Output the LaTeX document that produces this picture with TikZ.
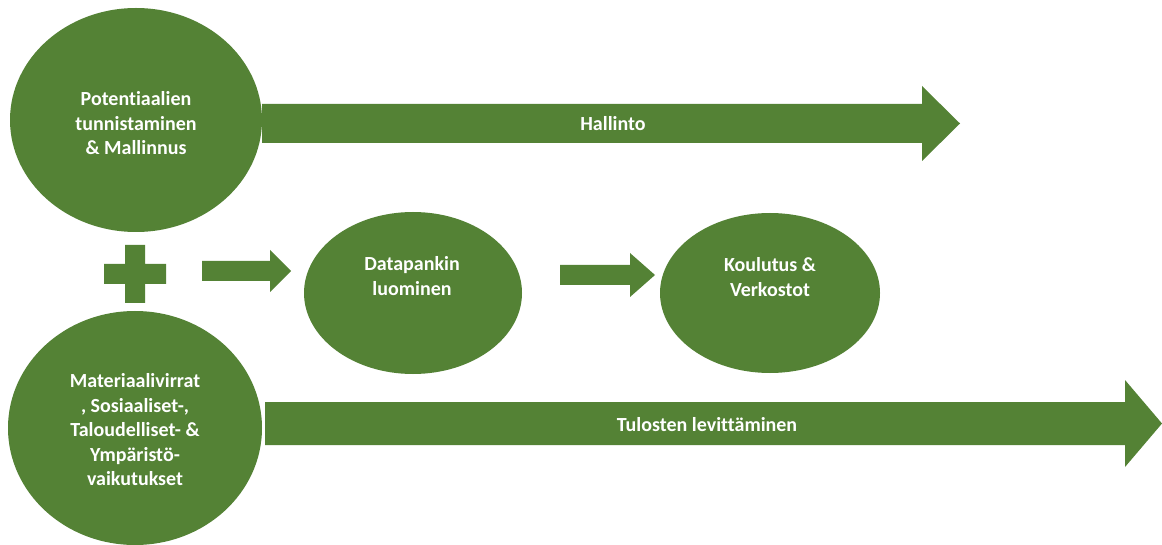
\documentclass[tikz,border=0pt]{standalone}
\usepackage{fontspec}
\setmainfont{Carlito}[Ligatures=NoCommon]
\usetikzlibrary{shapes.geometric}
\definecolor{leaf}{RGB}{84,130,53}
\begin{document}
\begin{tikzpicture}[x=1pt,y=-1pt,
  blob/.style={ellipse,fill=leaf,inner sep=0pt},
  lbl/.style={text=white,font=\bfseries\fontsize{20}{24.5}\selectfont,align=center,inner sep=0pt},
  blockarrow/.style={fill=leaf}]
\useasboundingbox (0,0) rectangle (1162,545);
\fill[white] (0,0) rectangle (1162,545);
% circles
\node[blob,minimum width=252pt,minimum height=224pt] (pot) at (136,120) {};
\node[lbl] (potT) at (136,123.5) {Potentiaalien\\tunnistaminen\\\& Mallinnus};
\node[blob,minimum width=254pt,minimum height=234pt] (mat) at (135,428) {};
\node[lbl] (matT) at (135,430) {Materiaalivirrat\\, Sosiaaliset-,\\Taloudelliset- \&\\Ympäristö-\\vaikutukset};
\node[blob,minimum width=218pt,minimum height=162pt] (data) at (413,293) {};
\node[lbl] (dataT) at (412,276) {Datapankin\\luominen};
\node[blob,minimum width=220pt,minimum height=160pt] (koul) at (770,293) {};
\node[lbl] (koulT) at (770,277) {Koulutus \&\\Verkostot};
% plus
\fill[leaf] (125,245) -- (145,245) -- (145,264) -- (166,264) -- (166,284) -- (145,284)
  -- (145,303) -- (125,303) -- (125,284) -- (104,284) -- (104,264) -- (125,264) -- cycle;
% small arrows
\fill[blockarrow] (202,261) -- (270,261) -- (270,250) -- (291,271) -- (270,292) -- (270,281) -- (202,281) -- cycle;
\fill[blockarrow] (560,265) -- (630,265) -- (630,253) -- (655,275) -- (630,297) -- (630,285) -- (560,285) -- cycle;
% big arrows
\fill[blockarrow] (262,104) -- (922,104) -- (922,86) -- (960,123.5) -- (922,161) -- (922,143) -- (262,143) -- cycle;
\node[lbl] (hal) at (613,124) {Hallinto};
\fill[blockarrow] (265,402) -- (1125,402) -- (1125,380) -- (1162,423.5) -- (1125,467) -- (1125,445) -- (265,445) -- cycle;
\node[lbl] (tul) at (707,425) {Tulosten levittäminen};
\end{tikzpicture}
\end{document}
